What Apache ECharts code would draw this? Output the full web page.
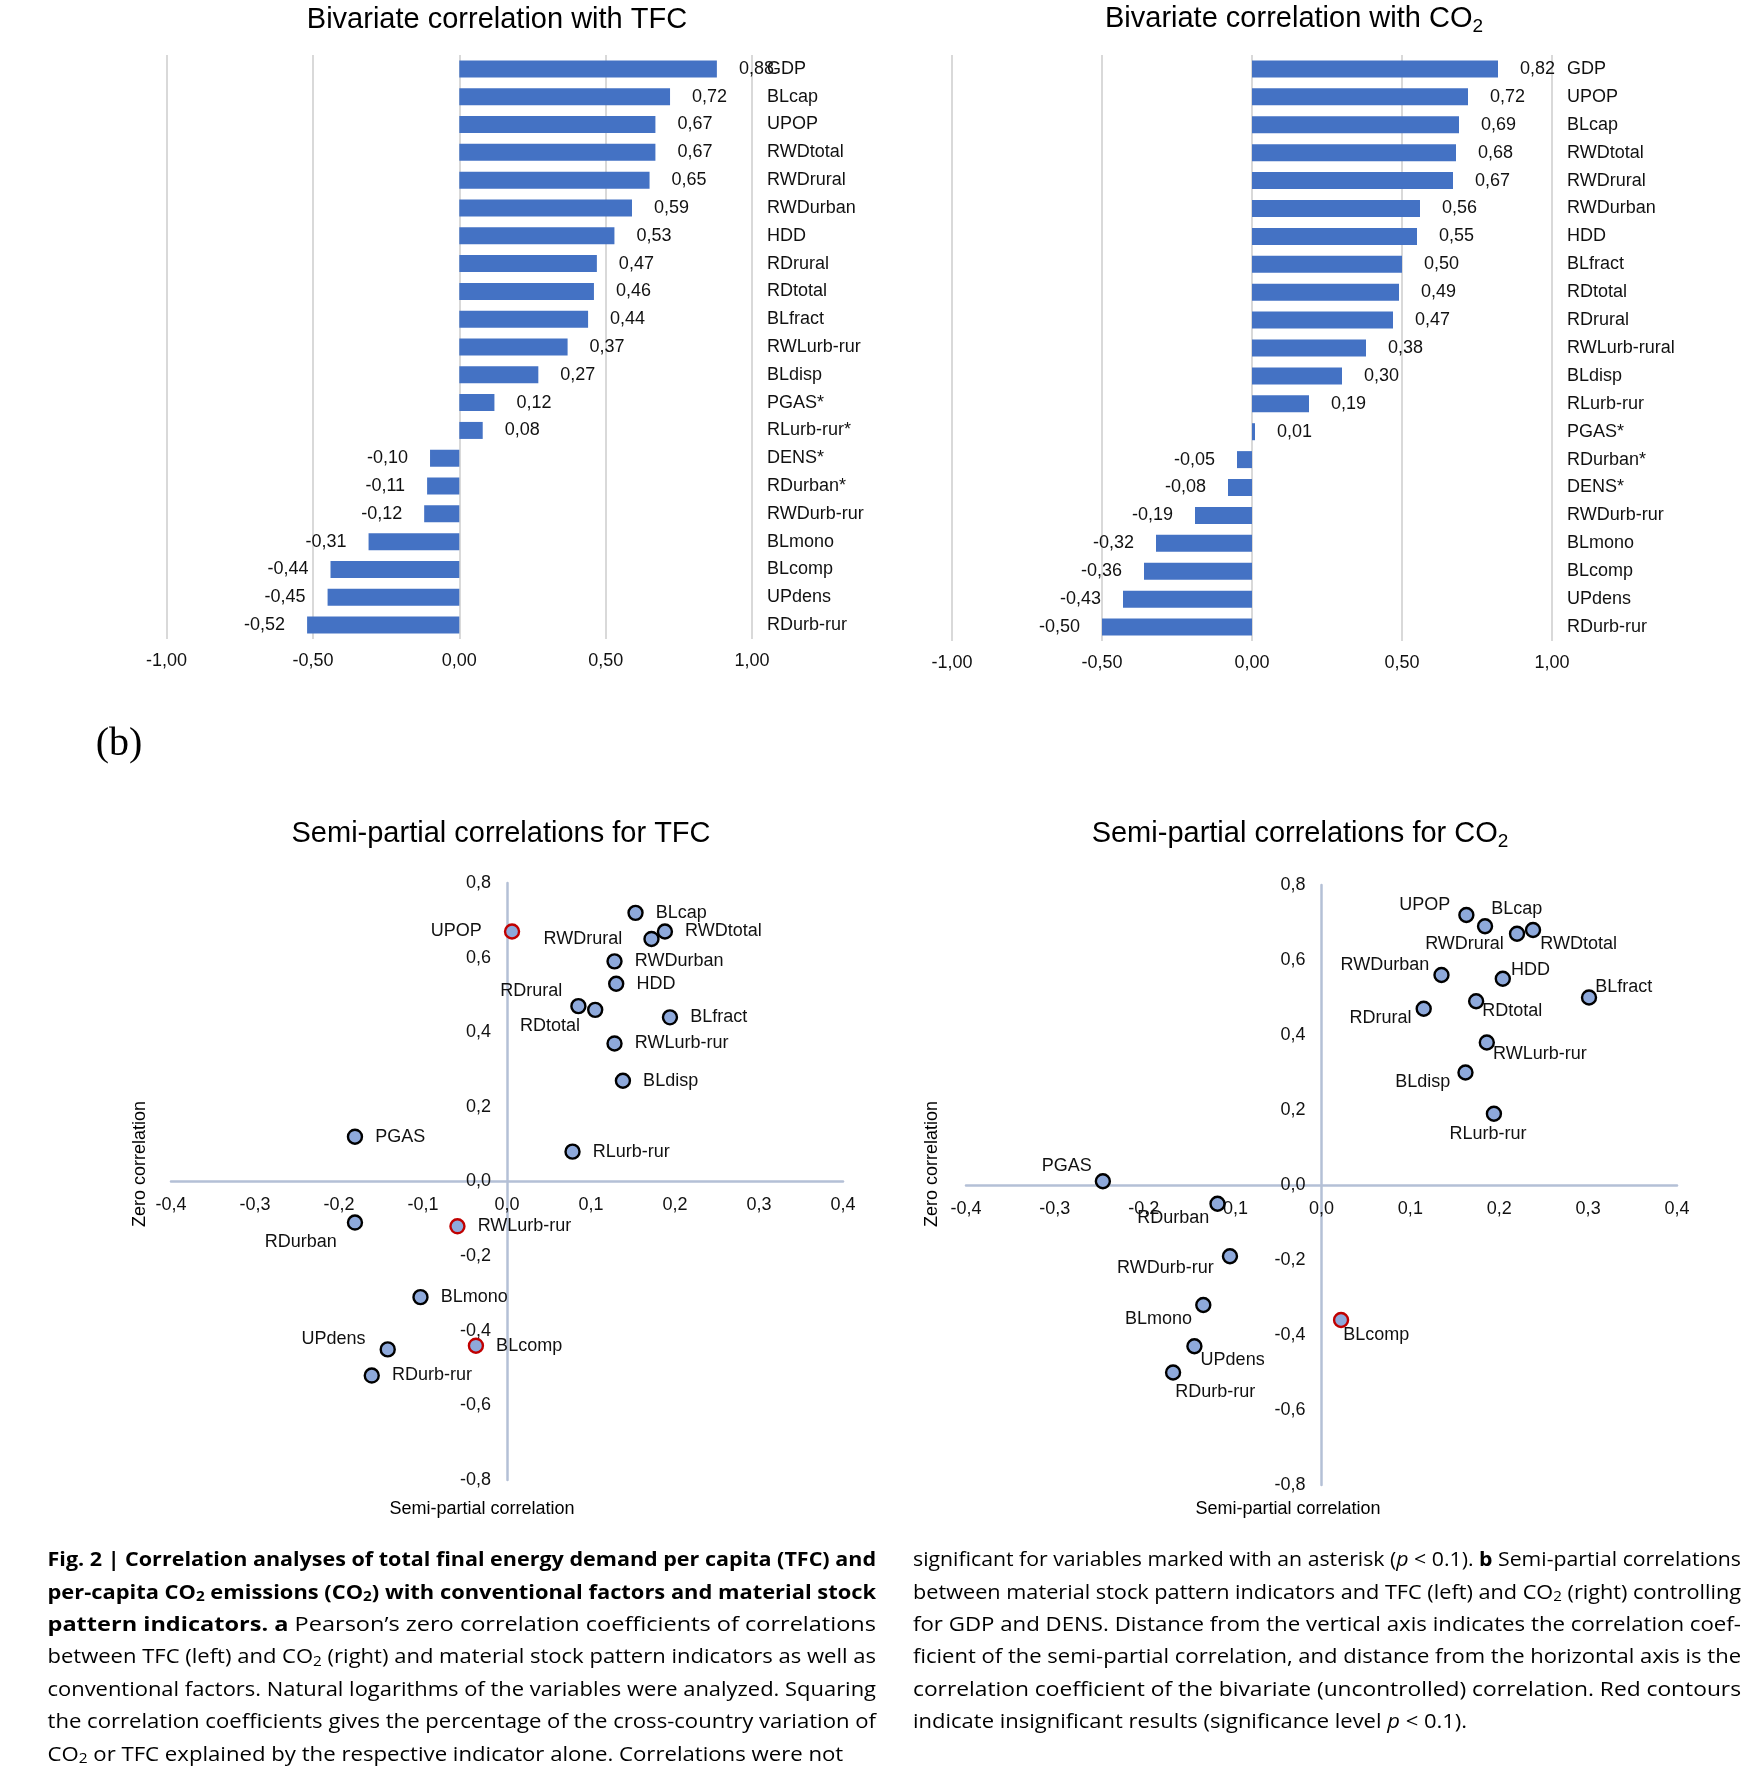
<!DOCTYPE html>
<html><head><meta charset="utf-8">
<script src="https://cdn.jsdelivr.net/npm/echarts@6.0.0/dist/echarts.min.js"></script>
<style>html,body{margin:0;padding:0;background:#fff}#c{width:1743px;height:1770px}</style>
</head><body><div id="c"></div>
<script>
// ---------- DATA ----------
const tfcCategories = ['GDP','BLcap','UPOP','RWDtotal','RWDrural','RWDurban','HDD','RDrural','RDtotal','BLfract','RWLurb-rur','BLdisp','PGAS*','RLurb-rur*','DENS*','RDurban*','RWDurb-rur','BLmono','BLcomp','UPdens','RDurb-rur'];
const tfcValues = [0.88,0.72,0.67,0.67,0.65,0.59,0.53,0.47,0.46,0.44,0.37,0.27,0.12,0.08,-0.10,-0.11,-0.12,-0.31,-0.44,-0.45,-0.52];

const co2Categories = ['GDP','UPOP','BLcap','RWDtotal','RWDrural','RWDurban','HDD','BLfract','RDtotal','RDrural','RWLurb-rural','BLdisp','RLurb-rur','PGAS*','RDurban*','DENS*','RWDurb-rur','BLmono','BLcomp','UPdens','RDurb-rur'];
const co2Values = [0.82,0.72,0.69,0.68,0.67,0.56,0.55,0.50,0.49,0.47,0.38,0.30,0.19,0.01,-0.05,-0.08,-0.19,-0.32,-0.36,-0.43,-0.50];

const tfcScatterNames = ['BLcap','UPOP','RWDtotal','RWDrural','RWDurban','HDD','RDrural','RDtotal','BLfract','RWLurb-rur','BLdisp','PGAS','RLurb-rur','RDurban','RWLurb-rur','BLmono','UPdens','BLcomp','RDurb-rur'];
const tfcSemiPartial = [0.153,0.006,0.188,0.172,0.128,0.130,0.085,0.105,0.194,0.128,0.138,-0.181,0.078,-0.181,-0.059,-0.103,-0.142,-0.037,-0.161];
const tfcZero = [0.72,0.67,0.67,0.65,0.59,0.53,0.47,0.46,0.44,0.37,0.27,0.12,0.08,-0.11,-0.12,-0.31,-0.45,-0.44,-0.52];
const tfcSignificant = [1,0,1,1,1,1,1,1,1,1,1,1,1,1,0,1,1,0,1];

const co2ScatterNames = ['UPOP','BLcap','RWDrural','RWDtotal','RWDurban','HDD','BLfract','RDtotal','RDrural','RWLurb-rur','BLdisp','RLurb-rur','PGAS','RDurban','RWDurb-rur','BLmono','UPdens','RDurb-rur','BLcomp'];
const co2SemiPartial = [0.163,0.184,0.220,0.238,0.135,0.204,0.301,0.174,0.115,0.186,0.162,0.194,-0.246,-0.117,-0.103,-0.133,-0.143,-0.167,0.022];
const co2Zero = [0.72,0.69,0.67,0.68,0.56,0.55,0.50,0.49,0.47,0.38,0.30,0.19,0.01,-0.05,-0.19,-0.32,-0.43,-0.50,-0.36];
const co2Significant = [1,1,1,1,1,1,1,1,1,1,1,1,1,1,1,1,1,1,0];

// ---------- STYLE (label placement per point, by index) ----------
const tfcLabelPos = ['right','left','right','left','right','right','left','left','right','right','right','right','right','left','right','right','left','right','right'];
const tfcLabelOff = [[0,0],[-10,0],[0,0],[-9,0],[0,0],[0,0],[4,-15],[5,16],[0,0],[0,0],[0,0],[0,0],[0,0],[2,19],[0,0],[0,0],[-2,-10],[0,0],[0,0]];
const co2LabelPos = ['left','right','left','right','left','right','right','right','left','right','left','bottom','left','left','left','left','right','right','right'];
const co2LabelOff = [[4,-10],[-14,-17],[7,10],[-13,14],[8,-10],[-12,-9],[-14,-10],[-14,10],[8,9],[-14,12],[5,10],[-6,-9],[9,-15],[12,14],[4,12],[9,14],[-14,14],[-18,20],[-18,15]];

const FONT = 'Liberation Sans';
const TXT = '#111';
const fmt2 = v => (Math.abs(v) < 1e-9 ? 0 : v).toFixed(2).replace('.', ',');
const fmt1 = v => (Math.abs(v) < 1e-9 ? 0 : v).toFixed(1).replace('.', ',');

const GRIDS = [
  { left: 166.6, top: 55, width: 585.4, height: 584 },
  { left: 952, top: 55, width: 600, height: 586 },
  { left: 171, top: 883, width: 672, height: 597 },
  { left: 966, top: 885, width: 711, height: 600 }
];

function barSeries(values, idx) {
  return {
    type: 'bar', xAxisIndex: idx, yAxisIndex: idx, barWidth: 17, silent: true,
    itemStyle: { color: '#4472C4' },
    label: { show: true, distance: 22, fontFamily: FONT, fontSize: 18, color: TXT, formatter: p => fmt2(p.value) },
    data: values.map(v => ({ value: v, label: { position: v < 0 ? 'left' : 'right' } }))
  };
}
function scatterSeries(names, xs, ys, sig, pos, off, idx) {
  return {
    type: 'scatter', xAxisIndex: idx, yAxisIndex: idx, symbolSize: 14, silent: true,
    itemStyle: { color: '#8EA9DB', borderWidth: 2.4, opacity: 1 },
    label: { show: true, formatter: '{b}', distance: 12, fontFamily: FONT, fontSize: 18, color: TXT },
    data: names.map((n, i) => ({
      name: n, value: [xs[i], ys[i]],
      itemStyle: { borderColor: sig[i] ? '#000' : '#C00000' },
      label: { position: pos[i], offset: off[i] }
    }))
  };
}
function barX(grid) {
  return { gridIndex: grid, type: 'value', min: -1, max: 1, interval: 0.5,
    axisLine: { show: false }, axisTick: { show: false },
    splitLine: { show: true, lineStyle: { color: '#D9D9D9', width: 2 } },
    axisLabel: { margin: 13, formatter: fmt2, fontFamily: FONT, fontSize: 18, color: TXT } };
}
function barY(grid, cats) {
  return { gridIndex: grid, type: 'category', data: cats, inverse: true, position: 'right',
    axisLine: { show: false }, axisTick: { show: false }, splitLine: { show: false },
    axisLabel: { margin: 15, fontFamily: FONT, fontSize: 18, color: TXT } };
}
const axisLineStyle = { color: '#B4C0D6', width: 2.5 };
// symmetric ranges: zero sits at the grid centre, so the axes are shifted there
function scX(grid) {
  return { gridIndex: grid, type: 'value', min: -0.4, max: 0.4, interval: 0.1, position: 'bottom',
    offset: -GRIDS[grid].height / 2,
    axisLine: { show: true, onZero: false, lineStyle: axisLineStyle }, axisTick: { show: false }, splitLine: { show: false },
    axisLabel: { margin: 15, formatter: fmt1, fontFamily: FONT, fontSize: 18, color: TXT } };
}
function scY(grid) {
  return { gridIndex: grid, type: 'value', min: -0.8, max: 0.8, interval: 0.2, position: 'left',
    offset: -GRIDS[grid].width / 2,
    axisLine: { show: true, onZero: false, lineStyle: axisLineStyle }, axisTick: { show: false }, splitLine: { show: false },
    axisLabel: { margin: 16, formatter: fmt1, fontFamily: FONT, fontSize: 18, color: TXT } };
}

// ---------- text helpers ----------
function titleText(x, y, main, sub) {
  const rich = {
    m: { fontFamily: FONT, fontSize: 29, fill: '#000', lineHeight: 36 },
    s: { fontFamily: FONT, fontSize: 19, fill: '#000', padding: [16, 0, 0, 0] }
  };
  return { type: 'text', x, y, silent: true,
    style: { text: '{m|' + main + '}' + (sub ? '{s|' + sub + '}' : ''), rich, align: 'center', verticalAlign: 'middle' } };
}
function plainText(x, y, text, size, extra) {
  return Object.assign({ type: 'text', x, y, silent: true,
    style: { text, fontFamily: FONT, fontSize: size, fill: '#000', align: 'center', verticalAlign: 'middle' } }, extra || {});
}

// caption
const CAPF = 'Open Sans', CAPS = 20, CAPSUB = 14;
const capRich = {
  r: { fontFamily: CAPF, fontSize: CAPS, fill: '#000' },
  b: { fontFamily: CAPF, fontSize: CAPS, fontWeight: 'bold', fill: '#000' },
  i: { fontFamily: CAPF, fontSize: CAPS, fontStyle: 'italic', fill: '#000' },
  s: { fontFamily: CAPF, fontSize: CAPSUB, fill: '#000', padding: [9, 0, 0, 0] },
  bs: { fontFamily: CAPF, fontSize: CAPSUB, fontWeight: 'bold', fill: '#000', padding: [9, 0, 0, 0] }
};
const capLeft = [
  [['b', 'Fig. 2 | Correlation analyses of total final energy demand per capita (TFC) and']],
  [['b', 'per-capita CO'], ['bs', '2'], ['b', ' emissions (CO'], ['bs', '2'], ['b', ') with conventional factors and material stock']],
  [['b', 'pattern indicators. a'], ['r', ' Pearson’s zero correlation coefficients of correlations']],
  [['r', 'between TFC (left) and CO'], ['s', '2'], ['r', ' (right) and material stock pattern indicators as well as']],
  [['r', 'conventional factors. Natural logarithms of the variables were analyzed. Squaring']],
  [['r', 'the correlation coefficients gives the percentage of the cross-country variation of']],
  [['r', 'CO'], ['s', '2'], ['r', ' or TFC explained by the respective indicator alone. Correlations were not']]
];
const capRight = [
  [['r', 'significant for variables marked with an asterisk ('], ['i', 'p'], ['r', ' < 0.1). '], ['b', 'b'], ['r', ' Semi-partial correlations']],
  [['r', 'between material stock pattern indicators and TFC (left) and CO'], ['s', '2'], ['r', ' (right) controlling']],
  [['r', 'for GDP and DENS. Distance from the vertical axis indicates the correlation coef-']],
  [['r', 'ficient of the semi-partial correlation, and distance from the horizontal axis is the']],
  [['r', 'correlation coefficient of the bivariate (uncontrolled) correlation. Red contours']],
  [['r', 'indicate insignificant results (significance level '], ['i', 'p'], ['r', ' < 0.1).']]
];
const mctx = document.createElement('canvas').getContext('2d');
function segWidth(segs) {
  let w = 0;
  for (const [k, t] of segs) {
    const st = capRich[k];
    mctx.font = (st.fontStyle || 'normal') + ' ' + (st.fontWeight || 'normal') + ' ' + st.fontSize + 'px ' + st.fontFamily;
    w += mctx.measureText(t).width;
  }
  return w;
}
function captionColumn(lines, x0, y0, lh, width, justifiedCount) {
  const els = [];
  const scales = [];
  lines.forEach((segs, i) => { if (i < justifiedCount) scales.push(width / segWidth(segs)); });
  const avg = scales.reduce((a, b) => a + b, 0) / scales.length;
  lines.forEach((segs, i) => {
    const sc = i < justifiedCount ? scales[i] : avg;
    els.push({ type: 'text', x: x0, y: y0 + i * lh, scaleX: sc, silent: true,
      style: { text: segs.map(([k, t]) => '{' + k + '|' + t + '}').join(''), rich: capRich, align: 'left', verticalAlign: 'middle' } });
  });
  return els;
}

const graphicEls = [
  titleText(497, 20, 'Bivariate correlation with TFC'),
  titleText(1294, 19, 'Bivariate correlation with CO', '2'),
  titleText(501, 834, 'Semi-partial correlations for TFC'),
  titleText(1300, 834, 'Semi-partial correlations for CO', '2'),
  plainText(140, 1164, 'Zero correlation', 18, { rotation: Math.PI / 2 }),
  plainText(932, 1164, 'Zero correlation', 18, { rotation: Math.PI / 2 }),
  plainText(482, 1509, 'Semi-partial correlation', 18),
  plainText(1288, 1509, 'Semi-partial correlation', 18),
  { type: 'text', x: 119, y: 744, silent: true, style: { text: '(b)', fontFamily: 'Liberation Serif', fontSize: 40, fill: '#000', align: 'center', verticalAlign: 'middle' } }
].concat(captionColumn(capLeft, 47.5, 1560.5, 32.4, 828.5, 6))
 .concat(captionColumn(capRight, 913, 1560.5, 32.4, 828, 5));

const chart = echarts.init(document.getElementById('c'), null, { renderer: 'canvas' });
chart.setOption({
  animation: false,
  backgroundColor: '#fff',
  grid: GRIDS.map(g => Object.assign({ outerBoundsMode: 'none', containLabel: false }, g)),
  xAxis: [barX(0), barX(1), scX(2), scX(3)],
  yAxis: [barY(0, tfcCategories), barY(1, co2Categories), scY(2), scY(3)],
  series: [
    barSeries(tfcValues, 0),
    barSeries(co2Values, 1),
    scatterSeries(tfcScatterNames, tfcSemiPartial, tfcZero, tfcSignificant, tfcLabelPos, tfcLabelOff, 2),
    scatterSeries(co2ScatterNames, co2SemiPartial, co2Zero, co2Significant, co2LabelPos, co2LabelOff, 3)
  ],
  graphic: { elements: graphicEls }
});
</script></body></html>
